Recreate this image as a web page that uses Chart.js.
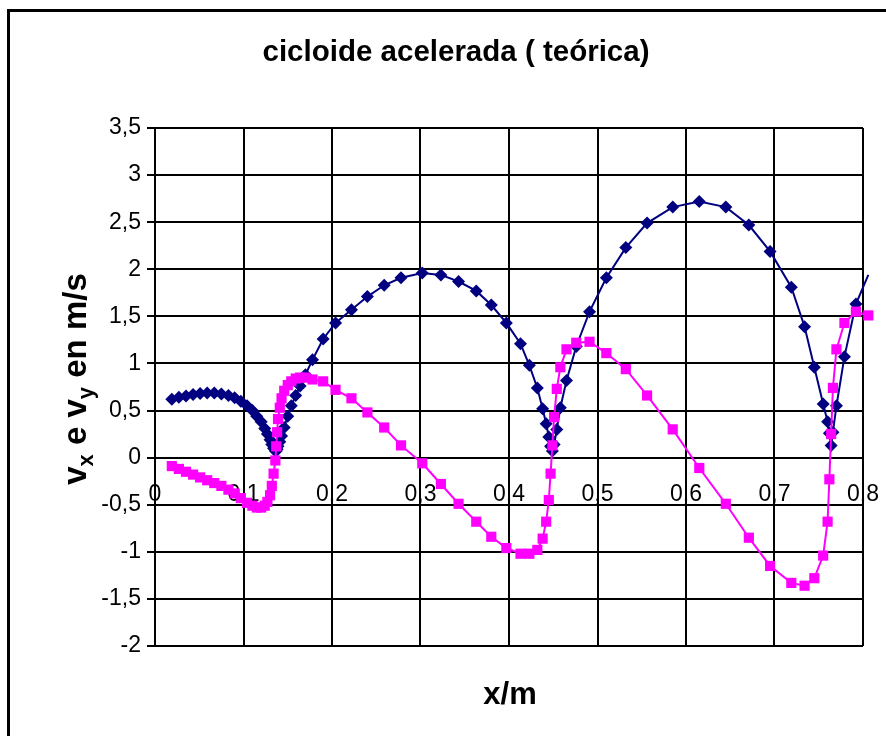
<!DOCTYPE html>
<html><head><meta charset="utf-8">
<script src="https://cdn.jsdelivr.net/npm/chart.js@4/dist/chart.umd.min.js"></script>
<style>html,body{margin:0;padding:0;background:#fff;}#wrap{position:relative;width:886px;height:736px;}</style>
</head><body><div id="wrap"><canvas id="c"></canvas></div>
<script>
const chartTitle = 'cicloide acelerada ( teórica)';
const xAxisTitle = 'x/m';
const xValues = [0.019,0.027,0.035,0.043,0.051,0.059,0.067,0.075,0.083,0.090,0.097,0.104,0.110,0.115,0.120,0.124,0.127,0.130,0.132,0.134,0.136,0.137,0.138,0.139,0.141,0.143,0.146,0.150,0.154,0.159,0.164,0.170,0.178,0.190,0.204,0.222,0.240,0.259,0.278,0.302,0.323,0.343,0.363,0.380,0.397,0.413,0.423,0.432,0.438,0.442,0.445,0.447,0.449,0.451,0.454,0.458,0.465,0.476,0.491,0.510,0.532,0.556,0.585,0.615,0.645,0.671,0.695,0.719,0.734,0.745,0.755,0.760,0.762,0.764,0.766,0.770,0.779,0.792,0.806];
const vxValues = [0.62,0.64,0.655,0.67,0.68,0.685,0.685,0.675,0.66,0.635,0.60,0.55,0.50,0.44,0.38,0.31,0.25,0.19,0.14,0.10,0.07,0.07,0.09,0.12,0.17,0.23,0.32,0.44,0.55,0.66,0.76,0.88,1.04,1.26,1.43,1.57,1.71,1.83,1.91,1.96,1.94,1.87,1.77,1.62,1.43,1.21,0.98,0.74,0.52,0.36,0.22,0.12,0.07,0.14,0.30,0.53,0.82,1.18,1.55,1.91,2.23,2.49,2.66,2.72,2.66,2.47,2.19,1.81,1.39,0.96,0.57,0.38,0.26,0.13,0.27,0.55,1.07,1.63,1.94];
const vyValues = [-0.09,-0.12,-0.15,-0.18,-0.21,-0.24,-0.27,-0.30,-0.34,-0.38,-0.43,-0.48,-0.51,-0.53,-0.53,-0.51,-0.47,-0.40,-0.30,-0.17,-0.03,0.12,0.27,0.41,0.53,0.63,0.71,0.77,0.81,0.84,0.85,0.85,0.83,0.81,0.72,0.63,0.48,0.32,0.13,-0.06,-0.28,-0.49,-0.68,-0.84,-0.96,-1.02,-1.02,-0.98,-0.86,-0.68,-0.45,-0.17,0.13,0.43,0.73,0.96,1.15,1.22,1.23,1.11,0.94,0.66,0.30,-0.11,-0.49,-0.85,-1.15,-1.33,-1.36,-1.28,-1.04,-0.68,-0.23,0.25,0.74,1.15,1.43,1.55,1.51];
const xTickLabels = ['0','0,1','0,2','0,3','0,4','0,5','0,6','0,7','0,8'];
const yTickLabels = ['-2','-1,5','-1','-0,5','0','0,5','1','1,5','2','2,5','3','3,5'];

const FONT = '"Liberation Sans", Arial, Helvetica, sans-serif';

const decor = {
  id: 'decor',
  beforeDraw(chart) {
    const c = chart.ctx;
    c.save(); c.fillStyle = '#fff'; c.fillRect(0, 0, chart.width, chart.height); c.restore();
  },
  afterDraw(chart) {
    const c = chart.ctx;
    c.save();
    c.strokeStyle = '#000'; c.lineWidth = 3;
    c.beginPath(); c.moveTo(8.5, chart.height + 5); c.lineTo(8.5, 10.5); c.lineTo(chart.width + 5, 10.5); c.stroke();
    c.fillStyle = '#000';
    c.textAlign = 'center'; c.textBaseline = 'middle';
    c.font = 'bold 29.5px ' + FONT;
    c.fillText(chartTitle, 456, 53);
    c.font = 'bold 31px ' + FONT;
    c.fillText(xAxisTitle, 510, 695);
    c.translate(86, 379); c.rotate(-Math.PI / 2);
    const big = 'bold 33px ' + FONT, small = 'bold 22px ' + FONT;
    const parts = [['v', big, 0], ['x', small, 7], [' e v', big, 0], ['y', small, 7], [' en m/s', big, 0]];
    let total = 0;
    parts.forEach(p => { c.font = p[1]; total += c.measureText(p[0]).width; });
    let x = -total / 2; c.textAlign = 'left'; c.textBaseline = 'alphabetic';
    parts.forEach(p => { c.font = p[1]; c.fillText(p[0], x, p[2]); x += c.measureText(p[0]).width; });
    c.restore();
  }
};

const toPts = ys => xValues.map((x, i) => ({x: x, y: ys[i]}));

new Chart(document.getElementById('c'), {
  type: 'line',
  data: {
    datasets: [
      {
        label: 'vy', data: toPts(vyValues),
        borderColor: '#FF00FF', backgroundColor: '#FF00FF', borderWidth: 2,
        pointStyle: 'rect', pointRadius: 7.2, pointBorderWidth: 0, pointHoverRadius: 7.2,
        tension: 0, clip: false
      },
      {
        label: 'vx', data: toPts(vxValues),
        borderColor: '#000080', backgroundColor: '#000080', borderWidth: 2,
        pointStyle: 'rectRot', pointBorderWidth: 0,
        pointRadius: ctx => (ctx.raw && ctx.raw.x > 0.8 ? 0 : 6.5), pointHoverRadius: 6.5,
        tension: 0, clip: false
      }
    ]
  },
  options: {
    responsive: true, maintainAspectRatio: false, animation: false, devicePixelRatio: 1,
    layout: { padding: { left: 0, top: 128, right: 23, bottom: 90 } },
    plugins: { legend: { display: false }, tooltip: { enabled: false }, title: { display: false } },
    scales: {
      x: {
        type: 'linear', position: { y: 0 }, min: 0,
        afterDataLimits: s => { s.max = 0.8; },
        afterFit: s => { s.paddingLeft = 0; s.paddingRight = 0; },
        ticks: { stepSize: 0.1, autoSkip: false, maxRotation: 0, color: '#000', padding: 17,
          font: { family: FONT, size: 23 }, callback: (v, i) => xTickLabels[i] },
        grid: { color: '#000', lineWidth: 2, tickLength: 6 },
        border: { color: '#000', width: 2 }
      },
      y: {
        type: 'linear', min: -2, max: 3.5,
        afterFit: s => { s.width = 155; s.paddingTop = 0; s.paddingBottom = 0; },
        ticks: { stepSize: 0.5, color: '#000', padding: 6, font: { family: FONT, size: 23 },
          callback: (v, i) => yTickLabels[i] },
        grid: { color: '#000', lineWidth: 2, tickLength: 8 },
        border: { color: '#000', width: 2 }
      }
    }
  },
  plugins: [decor]
});
</script></body></html>
